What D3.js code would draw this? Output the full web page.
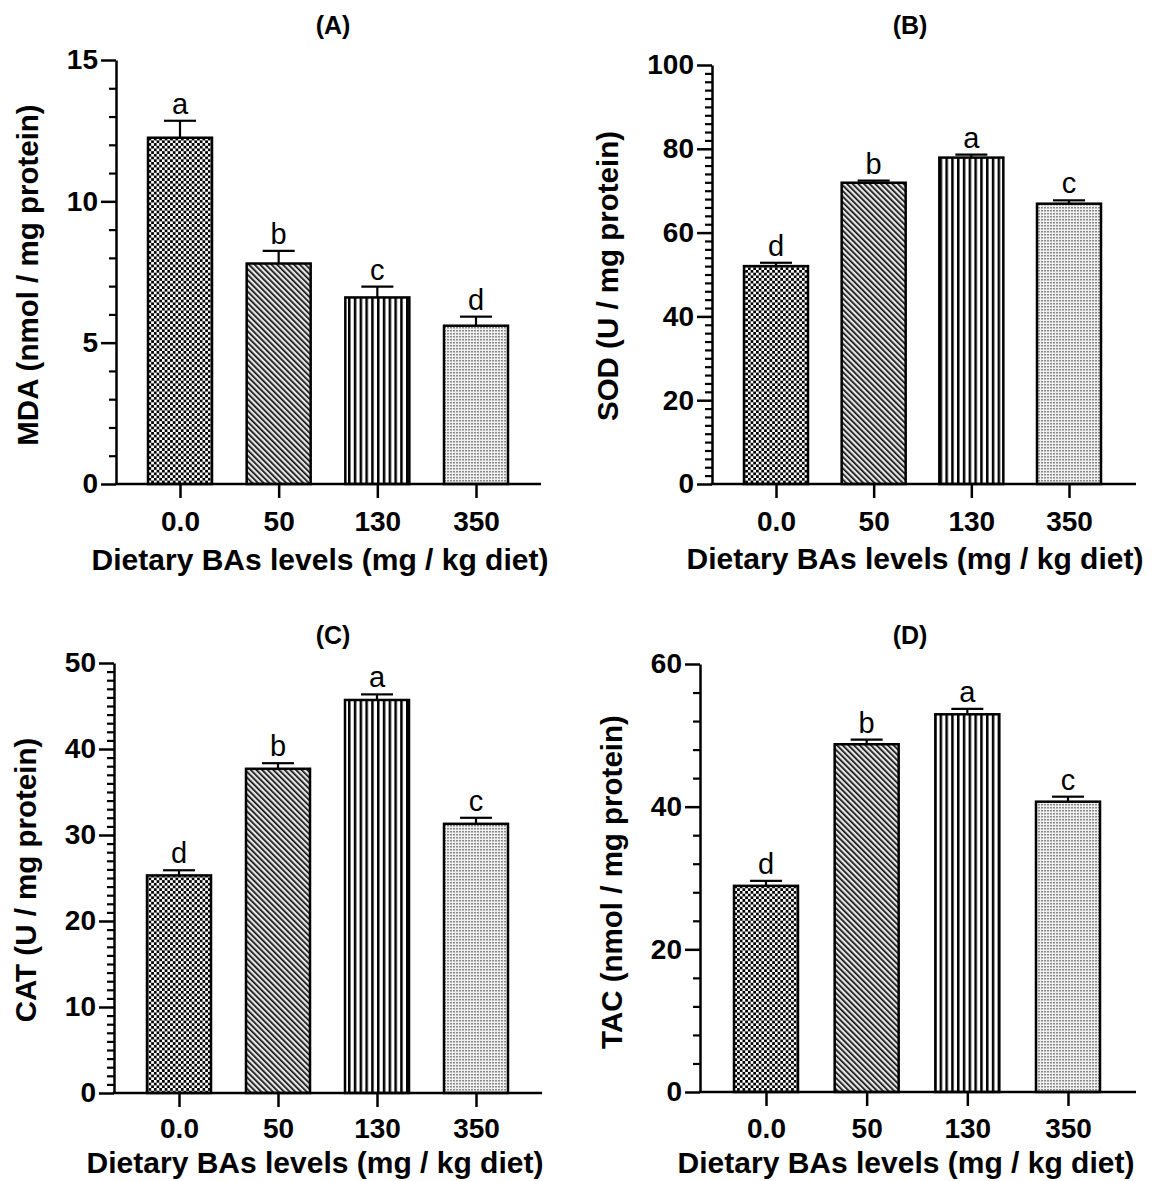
<!DOCTYPE html>
<meta charset="utf-8">
<script src="https://d3js.org/d3.v7.min.js"></script>
<style>
  body { margin: 0; background: #fff; }
  text { font-family: "Liberation Sans", Arial, sans-serif; fill: #000; }
</style>
<div id="my_dataviz"></div>
<script>

  // dietary levels (x categories)
  var categories = ["0.0", "50", "130", "350"];

  // (A) MDA
  var mdaMean = [12.25, 7.8, 6.6, 5.6],
    mdaErr = [0.6, 0.45, 0.38, 0.32],
    mdaLetters = ["a", "b", "c", "d"],
    mdaTicks = [0, 5, 10, 15];

  // (B) SOD
  var sodMean = [52.0, 71.9, 77.9, 66.9],
    sodErr = [0.8, 0.5, 0.7, 0.8],
    sodLetters = ["d", "b", "a", "c"],
    sodTicks = [0, 20, 40, 60, 80, 100];

  // (C) CAT
  var catMean = [25.3, 37.7, 45.7, 31.3],
    catErr = [0.6, 0.65, 0.65, 0.7],
    catLetters = ["d", "b", "a", "c"],
    catTicks = [0, 10, 20, 30, 40, 50];

  // (D) TAC
  var tacMean = [28.9, 48.75, 52.95, 40.7],
    tacErr = [0.7, 0.65, 0.75, 0.7],
    tacLetters = ["d", "b", "a", "c"],
    tacTicks = [0, 20, 40, 60];

  var fills = ["url(#checker)", "url(#diag)", "url(#vert)", "url(#dots)"];

  // layout of the four panels
  var panels = [
    { title: "(A)", ylab: "MDA (nmol / mg protein)", mean: mdaMean, err: mdaErr, letters: mdaLetters, ticks: mdaTicks, minor: 1,
      ox: 116, top: 60, bottom: 484, right: 541, c0: 180, c3: 476, tx: 333, ty: 34, ylx: 38, yly: 275, xlx: 320, xly: 570, tly: 531 },
    { title: "(B)", ylab: "SOD (U / mg protein)", mean: sodMean, err: sodErr, letters: sodLetters, ticks: sodTicks, minor: 2,
      ox: 712, top: 65, bottom: 484, right: 1136, c0: 776, c3: 1069, tx: 910, ty: 34, ylx: 618, yly: 276, xlx: 915, xly: 569, tly: 531 },
    { title: "(C)", ylab: "CAT (U / mg protein)", mean: catMean, err: catErr, letters: catLetters, ticks: catTicks, minor: 1,
      ox: 114, top: 663, bottom: 1093, right: 542, c0: 179, c3: 476, tx: 333, ty: 644, ylx: 36, yly: 880, xlx: 315, xly: 1173, tly: 1138 },
    { title: "(D)", ylab: "TAC (nmol / mg protein)", mean: tacMean, err: tacErr, letters: tacLetters, ticks: tacTicks, minor: 4,
      ox: 700, top: 664, bottom: 1092, right: 1136, c0: 766, c3: 1068, tx: 910, ty: 644, ylx: 622, yly: 882, xlx: 906, xly: 1173, tly: 1138 }
  ];

  var barW = 64, capW = 32;

  var svg = d3.select("#my_dataviz")
    .append("svg")
    .attr("width", 1157)
    .attr("height", 1181);

  // hatch patterns
  var defs = svg.append("defs");

  var p1 = defs.append("pattern").attr("id", "checker").attr("patternUnits", "userSpaceOnUse")
    .attr("width", 5.4).attr("height", 5.4);
  p1.append("rect").attr("width", 5.4).attr("height", 5.4).attr("fill", "#fff");
  p1.append("rect").attr("width", 2.7).attr("height", 2.7).attr("fill", "#000");
  p1.append("rect").attr("x", 2.7).attr("y", 2.7).attr("width", 2.7).attr("height", 2.7).attr("fill", "#000");

  var p2 = defs.append("pattern").attr("id", "diag").attr("patternUnits", "userSpaceOnUse")
    .attr("width", 4).attr("height", 4).attr("patternTransform", "rotate(-45)");
  p2.append("rect").attr("width", 4).attr("height", 4).attr("fill", "#e6e6e6");
  p2.append("rect").attr("width", 1.7).attr("height", 4).attr("fill", "#111");

  var p3 = defs.append("pattern").attr("id", "vert").attr("patternUnits", "userSpaceOnUse")
    .attr("width", 5.8).attr("height", 6);
  p3.append("rect").attr("width", 5.8).attr("height", 6).attr("fill", "#fff");
  p3.append("rect").attr("width", 2.5).attr("height", 6).attr("fill", "#000");

  var p4 = defs.append("pattern").attr("id", "dots").attr("patternUnits", "userSpaceOnUse")
    .attr("width", 3).attr("height", 3);
  p4.append("rect").attr("width", 3).attr("height", 3).attr("fill", "#f0f0f0");
  p4.append("rect").attr("width", 2).attr("height", 1.5).attr("fill", "#8a8a8a");

  panels.forEach(function (p) {
    var g = svg.append("g");

    var y = d3.scaleLinear()
      .domain([0, d3.max(p.ticks)])
      .range([p.bottom, p.top]);

    var x = d3.scalePoint()
      .domain(categories)
      .range([p.c0, p.c3]);

    var rows = categories.map(function (c, i) {
      return { cat: c, mean: p.mean[i], err: p.err[i], letter: p.letters[i], fill: fills[i] };
    });

    // bars
    g.selectAll(".bar")
      .data(rows)
      .enter().append("rect")
      .attr("x", function (d) { return x(d.cat) - barW / 2; })
      .attr("y", function (d) { return y(d.mean); })
      .attr("width", barW)
      .attr("height", function (d) { return y(0) - y(d.mean); })
      .attr("fill", function (d) { return d.fill; })
      .attr("stroke", "#000")
      .attr("stroke-width", 2.5);

    // error bars (upper only)
    g.selectAll(".stem")
      .data(rows)
      .enter().append("line")
      .attr("x1", function (d) { return x(d.cat); })
      .attr("x2", function (d) { return x(d.cat); })
      .attr("y1", function (d) { return y(d.mean); })
      .attr("y2", function (d) { return y(d.mean + d.err); })
      .attr("stroke", "#000")
      .attr("stroke-width", 2.2);

    g.selectAll(".cap")
      .data(rows)
      .enter().append("line")
      .attr("x1", function (d) { return x(d.cat) - capW / 2; })
      .attr("x2", function (d) { return x(d.cat) + capW / 2; })
      .attr("y1", function (d) { return y(d.mean + d.err); })
      .attr("y2", function (d) { return y(d.mean + d.err); })
      .attr("stroke", "#000")
      .attr("stroke-width", 2.2);

    // significance letters
    g.selectAll(".letter")
      .data(rows)
      .enter().append("text")
      .attr("x", function (d) { return x(d.cat); })
      .attr("y", function (d) { return y(d.mean + d.err) - 7; })
      .attr("text-anchor", "middle")
      .style("font-size", "29px")
      .text(function (d) { return d.letter; });

    // y axis: minor ticks
    var maxV = d3.max(p.ticks);
    var minorVals = d3.range(0, maxV + 0.001, p.minor).filter(function (v) { return p.ticks.indexOf(v) < 0; });
    g.append("g")
      .attr("transform", "translate(" + p.ox + ",0)")
      .call(d3.axisLeft(y).tickValues(minorVals).tickSize(7).tickSizeOuter(0).tickFormat(""))
      .call(function (a) {
        a.select(".domain").remove();
        a.selectAll("line").attr("stroke-width", 2.2);
      });

    // y axis: major ticks
    g.append("g")
      .attr("transform", "translate(" + p.ox + ",0)")
      .call(d3.axisLeft(y).tickValues(p.ticks).tickSize(15).tickSizeOuter(0).tickPadding(3))
      .call(function (a) {
        a.select(".domain").attr("stroke-width", 2.5);
        a.selectAll("line").attr("stroke-width", 2.5);
        a.selectAll("text")
          .style("font-size", "28px")
          .style("font-weight", "bold")
          .style("font-family", "'Liberation Sans', Arial, sans-serif");
      });

    // x axis
    g.append("line")
      .attr("x1", p.ox - 1.25).attr("x2", p.right)
      .attr("y1", y(0)).attr("y2", y(0))
      .attr("stroke", "#000").attr("stroke-width", 2.5);

    g.append("g")
      .attr("transform", "translate(0," + y(0) + ")")
      .call(d3.axisBottom(x).tickSize(14).tickSizeOuter(0))
      .call(function (a) {
        a.select(".domain").remove();
        a.selectAll("line").attr("stroke-width", 2.5);
        a.selectAll("text")
          .attr("y", p.tly - y(0))
          .attr("dy", null)
          .style("font-size", "28px")
          .style("font-weight", "bold")
          .style("font-family", "'Liberation Sans', Arial, sans-serif");
      });

    // titles
    g.append("text")
      .attr("x", p.tx).attr("y", p.ty)
      .attr("text-anchor", "middle")
      .style("font-size", "25px").style("font-weight", "bold")
      .text(p.title);

    g.append("text")
      .attr("transform", "translate(" + p.ylx + "," + p.yly + ") rotate(-90)")
      .attr("text-anchor", "middle")
      .style("font-size", "29.5px").style("font-weight", "bold")
      .text(p.ylab);

    g.append("text")
      .attr("x", p.xlx).attr("y", p.xly)
      .attr("text-anchor", "middle")
      .style("font-size", "30px").style("font-weight", "bold")
      .text("Dietary BAs levels (mg / kg diet)");
  });

</script>
